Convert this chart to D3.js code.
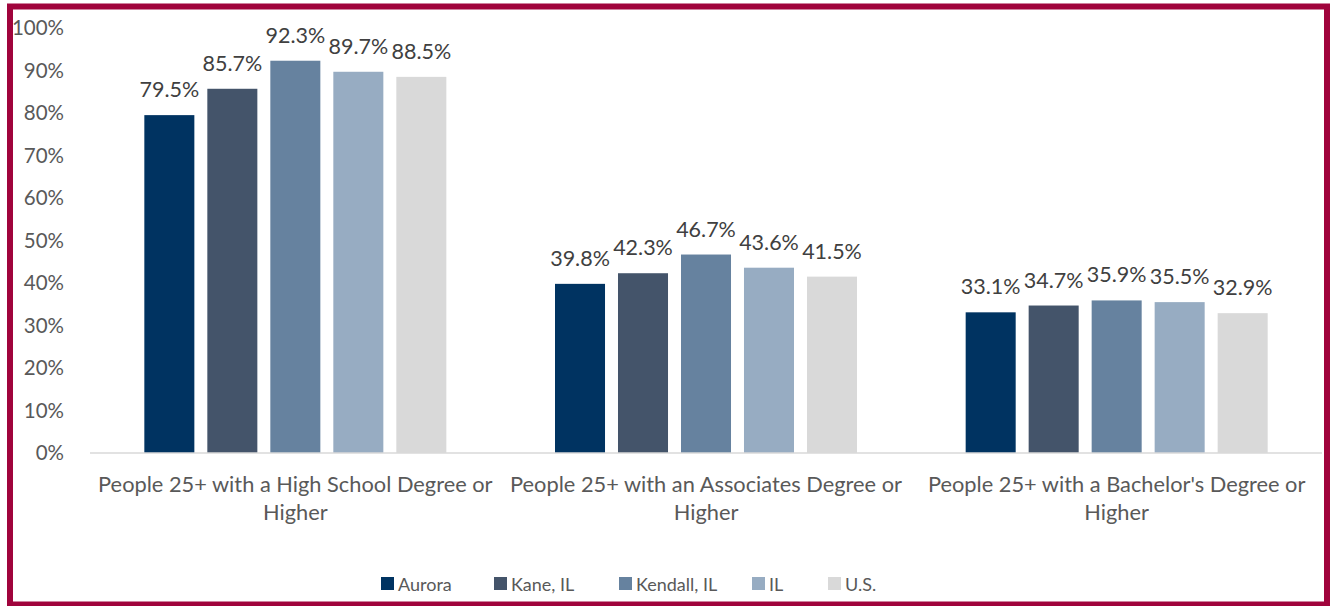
<!DOCTYPE html>
<html>
<head>
<meta charset="utf-8">
<script src="https://cdn.jsdelivr.net/npm/d3@7"></script>
<style>
  body { margin: 0; background: #fff; }
  svg text { font-family: "Lato", "Liberation Sans", sans-serif; }
</style>
</head>
<body>
<svg id="chart"></svg>
<script>
// categories on the x axis (two lines each)
var categories = [
  ["People 25+ with a High School Degree or", "Higher"],
  ["People 25+ with an Associates Degree or", "Higher"],
  ["People 25+ with a Bachelor's Degree or", "Higher"]
];
var seriesNames = ["Aurora", "Kane, IL", "Kendall, IL", "IL", "U.S."];
var seriesColors = ["#003361", "#44546A", "#66829F", "#97ACC2", "#D9D9D9"];
// values per series, one per category
var aurora  = [79.5, 39.8, 33.1];
var kane    = [85.7, 42.3, 34.7];
var kendall = [92.3, 46.7, 35.9];
var il      = [89.7, 43.6, 35.5];
var us      = [88.5, 41.5, 32.9];
var yTicks = [0, 10, 20, 30, 40, 50, 60, 70, 80, 90, 100];

var values = [aurora, kane, kendall, il, us];

var width = 1335, height = 606;
var margin = {top: 28, right: 13, bottom: 153, left: 90};

var svg = d3.select("#chart")
    .attr("width", width)
    .attr("height", height);

// maroon frame
svg.append("rect")
    .attr("x", 10).attr("y", 6.5)
    .attr("width", 1317).attr("height", 598)
    .attr("fill", "none")
    .attr("stroke", "#A0043C")
    .attr("stroke-width", 6);

var x0 = d3.scaleBand()
    .domain(d3.range(categories.length))
    .range([margin.left, width - margin.right]);

var x1 = d3.scaleBand()
    .domain(d3.range(seriesNames.length))
    .range([0, 302])
    .paddingInner(0.206);

var y = d3.scaleLinear()
    .domain([0, 100])
    .range([height - margin.bottom, margin.top]);

// y axis labels (no line, no ticks)
var yAxis = svg.append("g")
    .attr("transform", "translate(" + (margin.left - 23) + ",0)")
    .call(d3.axisLeft(y).tickValues(yTicks).tickSize(0).tickFormat(function(d) { return d + "%"; }));
yAxis.select(".domain").remove();
yAxis.selectAll("text")
    .style("font-size", "20.5px")
    .style("fill", "#595959")
    .style("font-family", "Lato, sans-serif");

// bars
var groups = svg.append("g")
    .selectAll("g")
    .data(categories)
    .enter().append("g")
    .attr("transform", function(d, i) {
      return "translate(" + (x0(i) + (x0.bandwidth() - 302) / 2) + ",0)";
    });

groups.selectAll("rect")
    .data(function(d, i) { return values.map(function(s, j) { return {s: j, v: s[i]}; }); })
    .enter().append("rect")
    .attr("x", function(d) { return x1(d.s); })
    .attr("width", x1.bandwidth())
    .attr("y", function(d) { return y(d.v); })
    .attr("height", function(d) { return y(0) - y(d.v); })
    .attr("fill", function(d) { return seriesColors[d.s]; });

groups.selectAll("text")
    .data(function(d, i) { return values.map(function(s, j) { return {s: j, v: s[i]}; }); })
    .enter().append("text")
    .attr("x", function(d) { return x1(d.s) + x1.bandwidth() / 2; })
    .attr("y", function(d) { return y(d.v) - 18; })
    .attr("text-anchor", "middle")
    .style("font-size", "21.5px")
    .style("fill", "#404040")
    .text(function(d) { return d.v.toFixed(1) + "%"; });

// baseline
svg.append("line")
    .attr("x1", margin.left).attr("x2", width - margin.right)
    .attr("y1", y(0)).attr("y2", y(0))
    .attr("stroke", "#D9D9D9")
    .attr("stroke-width", 1.5);

// category labels
var catLabels = svg.append("g")
    .selectAll("text")
    .data(categories)
    .enter().append("text")
    .attr("x", function(d, i) { return x0(i) + x0.bandwidth() / 2; })
    .attr("y", y(0) + 39)
    .attr("text-anchor", "middle")
    .style("font-size", "21.8px")
    .style("fill", "#595959");
catLabels.selectAll("tspan")
    .data(function(d) { return d; })
    .enter().append("tspan")
    .attr("x", function() { return d3.select(this.parentNode).attr("x"); })
    .attr("dy", function(d, i) { return i === 0 ? 0 : 28; })
    .text(function(d) { return d; });

// legend
var legendX = [381, 494, 619, 752, 828];
var legend = svg.append("g")
    .selectAll("g")
    .data(seriesNames)
    .enter().append("g")
    .attr("transform", function(d, i) { return "translate(" + legendX[i] + ",577)"; });
legend.append("rect")
    .attr("width", 13).attr("height", 13)
    .attr("fill", function(d, i) { return seriesColors[i]; });
legend.append("text")
    .attr("x", 17).attr("y", 14)
    .style("font-size", "18px")
    .style("fill", "#595959")
    .text(function(d) { return d; });
</script>
</body>
</html>
